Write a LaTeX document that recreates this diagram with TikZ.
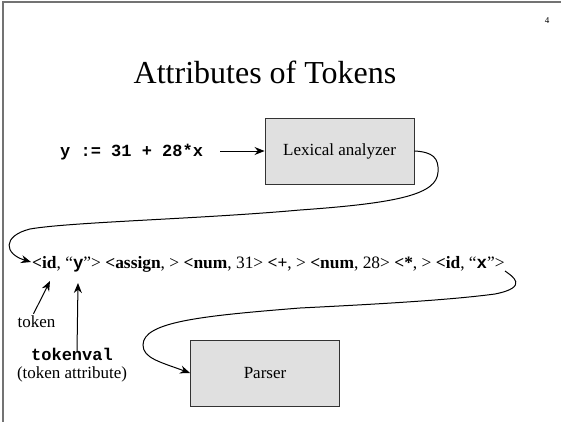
\documentclass[tikz,border=0pt]{standalone}
\usepackage{fontspec}
\setmainfont{Liberation Serif}
\setmonofont{Liberation Mono}
\usetikzlibrary{arrows.meta}
\definecolor{boxfill}{HTML}{E0E0E0}
\tikzset{
  box/.style={draw=black!80, fill=boxfill, line width=0.9pt, minimum width=149pt, minimum height=66pt, inner sep=0pt, font=\fontsize{17}{20}\selectfont},
  lbl/.style={inner sep=0pt, font=\fontsize{17}{20}\selectfont},
  conn/.style={line width=1pt, -{Stealth[length=10pt,width=8pt]}},
  frame/.style={draw=black!55, line width=1.5pt}
}
\begin{document}
\begin{tikzpicture}[x=1pt,y=-1pt]
\useasboundingbox (0,0) rectangle (561,422);
\draw[frame] (3,422) -- (3,2) -- (561,2);
\node[inner sep=0pt, font=\fontsize{9}{10}\selectfont] (pg) at (547,21) {4};
\node[inner sep=0pt, anchor=base, font=\fontsize{32}{36}\selectfont] (title) at (265,84) {Attributes of Tokens};
\node[lbl, anchor=base west] (src) at (60,157) {\ttfamily\bfseries y := 31 + 28*x};
\node[box] (lex) at (339.5,151) {Lexical analyzer};
\node[box] (parser) at (265,373) {Parser};
\node[lbl, anchor=base west, font=\fontsize{17.4}{20}\selectfont] (tokens) at (32,268) {\textbf{<id}, “\texttt{\textbf{y}}”> \textbf{<assign}, > \textbf{<num}, 31> \textbf{<+}, > \textbf{<num}, 28> \textbf{<*}, > \textbf{<id}, “\texttt{\textbf{x}}”>};
\node[lbl] (tok) at (36.5,322) {token};
\node[lbl] (tv) at (72,354) {\ttfamily\bfseries tokenval};
\node[lbl] (tva) at (72,374) {(token attribute)};
\coordinate (tipid) at (50,281);
\coordinate (tipy) at (78,283);
\coordinate (c1) at (438,172);
\coordinate (c2) at (300,210);
\coordinate (c3) at (30,229);
\coordinate (c4) at (505,271);
\coordinate (c5) at (300,308);
\coordinate (c6) at (143,345);
\draw[conn] (src.east |- lex.west) ++(17,0) -- (lex.west);
\draw[conn] (lex.east) .. controls (433,152) and (439,158) .. (c1)
  .. controls (437,194) and (400,203) .. (c2)
  .. controls (200,219) and (70,222) .. (c3)
  .. controls (2,236) and (4,254) .. ([xshift=-1pt]tokens.west |- 0,262);
\draw[conn] (c4) .. controls (512,276) and (530,287) .. (495,294)
  .. controls (450,300) and (380,304) .. (c5)
  .. controls (200,316) and (143,322) .. (c6)
  .. controls (143,358) and (160,362) .. (parser.west);
\draw[conn] (tok.north) ++(-3,-2) -- (tipid);
\draw[conn] ([xshift=5pt,yshift=-4pt]tv.north) -- (tipy);
\end{tikzpicture}
\end{document}
